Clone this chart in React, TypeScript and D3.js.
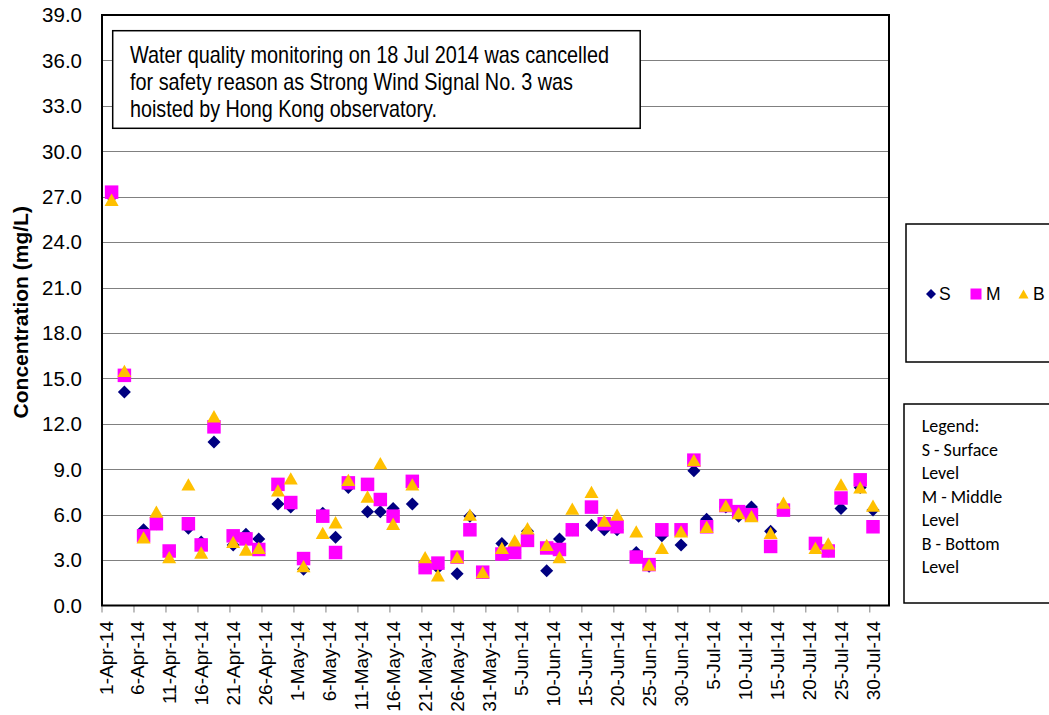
import React from "react";
import * as d3 from "d3";

const sampleDates = [
  "2014-04-02","2014-04-04","2014-04-07","2014-04-09","2014-04-11","2014-04-14","2014-04-16","2014-04-18",
  "2014-04-21","2014-04-23","2014-04-25","2014-04-28","2014-04-30","2014-05-02","2014-05-05","2014-05-07",
  "2014-05-09","2014-05-12","2014-05-14","2014-05-16","2014-05-19","2014-05-21","2014-05-23","2014-05-26",
  "2014-05-28","2014-05-30","2014-06-02","2014-06-04","2014-06-06","2014-06-09","2014-06-11","2014-06-13",
  "2014-06-16","2014-06-18","2014-06-20","2014-06-23","2014-06-25","2014-06-27","2014-06-30","2014-07-02",
  "2014-07-04","2014-07-07","2014-07-09","2014-07-11","2014-07-14","2014-07-16","2014-07-21","2014-07-23",
  "2014-07-25","2014-07-28","2014-07-30"
];

const surface = [
  27.0,14.1,5.0,5.4,3.5,5.1,4.2,10.8,
  4.0,4.7,4.4,6.7,6.5,2.4,6.1,4.5,
  7.8,6.2,6.2,6.4,6.7,2.6,2.5,2.1,
  5.9,2.2,4.1,3.5,4.9,2.3,4.4,5.0,
  5.3,5.0,5.0,3.5,2.6,4.6,4.0,8.9,
  5.7,6.5,5.9,6.5,4.9,6.5,4.0,3.6,
  6.4,7.8,6.3
];
const middle = [
  27.3,15.2,4.6,5.4,3.6,5.4,4.0,11.8,
  4.6,4.4,3.7,8.0,6.8,3.1,5.9,3.5,
  8.1,8.0,7.0,5.9,8.2,2.5,2.8,3.2,
  5.0,2.2,3.4,3.5,4.3,3.8,3.7,5.0,
  6.5,5.4,5.2,3.2,2.7,5.0,5.0,9.6,
  5.2,6.6,6.2,6.0,3.9,6.3,4.1,3.6,
  7.1,8.3,5.2
];
const bottom = [
  26.8,15.5,4.5,6.2,3.2,8.0,3.5,12.5,
  4.2,3.7,3.8,7.6,8.4,2.6,4.8,5.5,
  8.3,7.2,9.4,5.4,8.0,3.2,2.0,3.2,
  6.0,2.2,3.8,4.3,5.1,4.0,3.2,6.4,
  7.5,5.6,6.0,4.9,2.7,3.8,4.9,9.6,
  5.2,6.6,6.1,5.9,4.8,6.8,3.8,4.1,
  8.0,7.8,6.6
];

const yTicks = [0, 3, 6, 9, 12, 15, 18, 21, 24, 27, 30, 33, 36, 39];
const axisStart = "2014-04-01";
const axisEnd = "2014-08-02";
const tickStepDays = 5;
const lastTick = "2014-07-30";

const noteLines = [
  "Water quality monitoring on 18 Jul 2014 was cancelled",
  "for safety reason as Strong Wind Signal  No. 3 was",
  "hoisted by Hong Kong observatory."
];
const legendNotes = ["Legend:", "S - Surface", "Level", "M - Middle", "Level", "B - Bottom", "Level"];

const seriesDefs = [
  { key: "S", values: surface, color: "#000080", shape: "diamond" },
  { key: "M", values: middle, color: "#FF00FF", shape: "square" },
  { key: "B", values: bottom, color: "#FFC000", shape: "triangle" },
];

const W = 1049, H = 715;
const plot = { left: 102, right: 889, top: 15, bottom: 605.5 };

function markerPath(shape: string, cx: number, cy: number, s: number) {
  const h = s / 2;
  if (shape === "diamond") {
    return `M${cx},${cy - h}L${cx + h},${cy}L${cx},${cy + h}L${cx - h},${cy}Z`;
  }
  if (shape === "square") {
    return `M${cx - h},${cy - h}H${cx + h}V${cy + h}H${cx - h}Z`;
  }
  const th = s * 0.88;
  return `M${cx},${cy - th / 2}L${cx + h},${cy + th / 2}L${cx - h},${cy + th / 2}Z`;
}

export default function App() {
  const parse = d3.timeParse("%Y-%m-%d");
  const x = d3.scaleTime().domain([parse(axisStart)!, parse(axisEnd)!]).range([plot.left, plot.right]);
  const y = d3.scaleLinear().domain([0, 39]).range([plot.bottom, plot.top]);
  const xTicks = d3.timeDay.range(parse(axisStart)!, d3.timeDay.offset(parse(lastTick)!, 1), tickStepDays);
  const fmt = d3.timeFormat("%-d-%b-%y");
  // Points sit in the middle of their day (between tick marks)
  const px = (ds: string) => x(d3.timeHour.offset(parse(ds)!, 12));

  const sizes: Record<string, number> = { diamond: 13, square: 13.5, triangle: 14 };

  return (
    <svg width={W} height={H} style={{ position: "absolute", left: 0, top: 0, background: "#fff" }}>
      <rect x={0} y={0} width={W} height={H} fill="#fff" />
      {/* gridlines */}
      {yTicks.filter(t => t > 0 && t < 39).map(t => (
        <line key={t} x1={plot.left} x2={plot.right} y1={Math.round(y(t)) + 0.5} y2={Math.round(y(t)) + 0.5}
          stroke="#808080" strokeWidth={1} />
      ))}
      {/* y tick labels */}
      {yTicks.map(t => (
        <text key={t} x={82} y={y(t) + 7.3} textAnchor="end" fontFamily="'Liberation Sans', Arial, sans-serif"
          fontSize={20.5} fill="#000">{t.toFixed(1)}</text>
      ))}
      {/* y axis title */}
      <text transform={`translate(28,${(plot.top + plot.bottom) / 2 + 2}) rotate(-90)`} textAnchor="middle"
        fontFamily="'Liberation Sans', Arial, sans-serif" fontWeight="bold" fontSize={21}>Concentration (mg/L)</text>
      {/* x ticks */}
      {xTicks.map((d, i) => (
        <g key={i}>
          <line x1={x(d)} x2={x(d)} y1={plot.bottom} y2={plot.bottom + 7} stroke="#808080" strokeWidth={1} />
          <text transform={`translate(${x(d) + 10.5},621) rotate(-90)`} textAnchor="end"
            fontFamily="'Liberation Sans', Arial, sans-serif" fontSize={19}>{fmt(d)}</text>
        </g>
      ))}
      {/* frame */}
      <rect x={plot.left} y={plot.top} width={plot.right - plot.left} height={plot.bottom - plot.top}
        fill="none" stroke="#000" strokeWidth={2} />
      {/* markers */}
      {seriesDefs.map(s => (
        <g key={s.key}>
          {s.values.map((v, i) => (
            <path key={i} d={markerPath(s.shape, px(sampleDates[i]), y(v), sizes[s.shape])} fill={s.color} />
          ))}
        </g>
      ))}
      {/* note box */}
      <rect x={112.7} y={30.7} width={527.5} height={97.6} fill="#fff" stroke="#000" strokeWidth={1.5} />
      {noteLines.map((l, i) => (
        <text key={i} x={130} y={62.5 + i * 27.3} fontFamily="'Liberation Sans Narrow', 'Liberation Sans', Arial, sans-serif"
          fontSize={24} textLength={[479, 443, 307][i]} lengthAdjust="spacingAndGlyphs">{l}</text>
      ))}
      {/* legend box */}
      <rect x={906} y={224} width={160} height={138} fill="#fff" stroke="#000" strokeWidth={1.5} />
      {seriesDefs.map((s, i) => {
        const cx = [931, 976, 1023.5][i];
        const tx = [939, 986, 1033][i];
        return (
          <g key={s.key}>
            <path d={markerPath(s.shape, cx, 294, [10, 11, 10][i])} fill={s.color} />
            <text x={tx} y={300.3} fontFamily="'Liberation Sans', Arial, sans-serif" fontSize={17.5}>{s.key}</text>
          </g>
        );
      })}
      {/* legend note box */}
      <rect x={904} y={404} width={160} height={199} fill="#fff" stroke="#000" strokeWidth={1.5} />
      {legendNotes.map((l, i) => (
        <text key={i} x={921.7} y={432 + i * 23.5} fontFamily="Carlito, Lato, 'Open Sans', sans-serif" fontSize={18}>{l}</text>
      ))}
    </svg>
  );
}
